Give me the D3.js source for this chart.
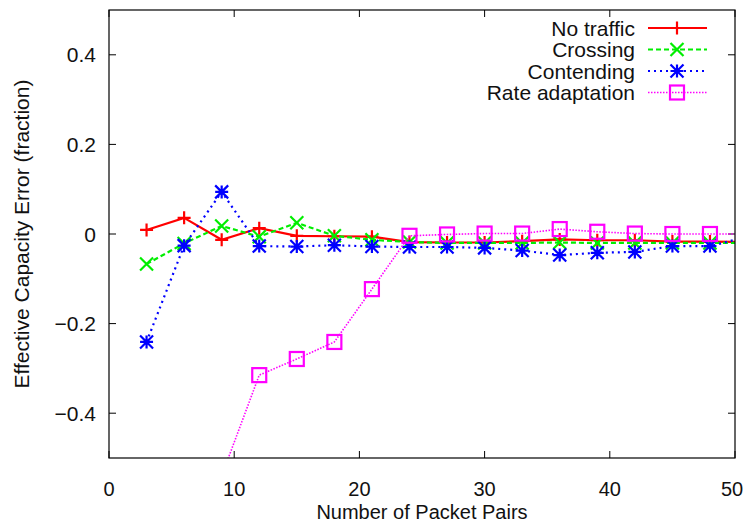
<!DOCTYPE html>
<html>
<head>
<meta charset="utf-8">
<script src="https://cdn.jsdelivr.net/npm/d3@7"></script>
<style>
  body { margin: 0; background: #fff; }
  text { font-family: 'Liberation Sans', Arial, sans-serif; fill: #111; }
</style>
</head>
<body>
<div id="chart"></div>
<script>
// packet pair counts (last point sits past the right edge and gets clipped)
const pairs = [3, 6, 9, 12, 15, 18, 21, 24, 27, 30, 33, 36, 39, 42, 45, 48, 51]

const noTraffic = [0.009, 0.036, -0.013, 0.013, -0.004, -0.005, -0.006, -0.018, -0.019, -0.019, -0.016, -0.012, -0.014, -0.014, -0.017, -0.017, -0.018]
const crossing = [-0.067, -0.021, 0.018, -0.006, 0.025, -0.004, -0.013, -0.018, -0.02, -0.02, -0.02, -0.019, -0.02, -0.02, -0.02, -0.02, -0.02]
const contending = [-0.241, -0.026, 0.094, -0.027, -0.028, -0.025, -0.028, -0.029, -0.029, -0.031, -0.037, -0.047, -0.042, -0.04, -0.027, -0.027, -0.006]
const ratePairs = [9, 12, 15, 18, 21, 24, 27, 30, 33, 36, 39, 42, 45, 48, 51]
const rateAdapt = [-0.54, -0.315, -0.279, -0.241, -0.123, -0.004, -0.001, 0.001, 0.001, 0.011, 0.005, 0.001, 0.0, 0.0, 0.0]

const xTicks = [0, 10, 20, 30, 40, 50]
const yTicks = [-0.4, -0.2, 0, 0.2, 0.4]

let margin = { top: 10, left: 109, right: 9, bottom: 67 }
let width = 744 - margin.left - margin.right
let height = 525 - margin.top - margin.bottom
const fontSize = 21

const svg = d3
  .select('#chart')
  .append('svg')
  .attr('width', 744)
  .attr('height', 525)
  .append('g')
  .attr('transform', 'translate(' + margin.left + ',' + margin.top + ')')

var xScale = d3.scaleLinear().domain([0, 50]).range([0, width])
var yScale = d3.scaleLinear().domain([-0.5, 0.5]).range([height, 0])

svg.append('clipPath').attr('id', 'clip')
  .append('rect').attr('width', width).attr('height', height)

const series = [
  { name: 'No traffic', xs: pairs, ys: noTraffic, color: '#ff0000', dash: null, lw: 2.2, marker: 'plus' },
  { name: 'Crossing', xs: pairs, ys: crossing, color: '#00ee00', dash: '5,3', lw: 2.2, marker: 'cross' },
  { name: 'Contending', xs: pairs, ys: contending, color: '#0000ff', dash: '2,4', lw: 2.2, marker: 'star' },
  { name: 'Rate adaptation', xs: ratePairs, ys: rateAdapt, color: '#ff00ff', dash: '1.5,1.5', lw: 1.6, marker: 'square' }
]

// axis ticks, drawn inward on all four sides like gnuplot
const tickLen = 7
const axisG = svg.append('g')
xTicks.forEach(t => {
  axisG.append('line').attr('x1', xScale(t)).attr('x2', xScale(t))
    .attr('y1', height).attr('y2', height - tickLen).attr('stroke', '#000')
  axisG.append('line').attr('x1', xScale(t)).attr('x2', xScale(t))
    .attr('y1', 0).attr('y2', tickLen).attr('stroke', '#000')
  // the last label would run past the page edge, so pull it in a touch
  const tx = t === 50 ? Math.min(xScale(t), 744 - margin.left - 12) : xScale(t)
  axisG.append('text').attr('x', tx).attr('y', height + 38)
    .attr('text-anchor', 'middle').attr('font-size', 20).text(t)
})
yTicks.forEach(t => {
  axisG.append('line').attr('x1', 0).attr('x2', tickLen)
    .attr('y1', yScale(t)).attr('y2', yScale(t)).attr('stroke', '#000')
  axisG.append('line').attr('x1', width).attr('x2', width - tickLen)
    .attr('y1', yScale(t)).attr('y2', yScale(t)).attr('stroke', '#000')
  axisG.append('text').attr('x', -13).attr('y', yScale(t) + 7.5)
    .attr('text-anchor', 'end').attr('font-size', fontSize).text(d3.format('')(t))
})

svg.append('text')
  .attr('x', width / 2).attr('y', height + 61)
  .attr('text-anchor', 'middle').attr('font-size', 20)
  .text('Number of Packet Pairs')

svg.append('text')
  .attr('transform', 'translate(' + (-80) + ',' + yScale(0) + ') rotate(-90)')
  .attr('text-anchor', 'middle').attr('font-size', fontSize)
  .text('Effective Capacity Error (fraction)')

function drawMarker(g, type, x, y, color) {
  const s = 6.5
  if (type === 'plus') {
    g.append('path').attr('d', `M${x - s},${y}H${x + s}M${x},${y - s}V${y + s}`)
      .attr('stroke', color).attr('stroke-width', 2.2).attr('fill', 'none')
  } else if (type === 'cross') {
    g.append('path').attr('d', `M${x - s},${y - s}L${x + s},${y + s}M${x - s},${y + s}L${x + s},${y - s}`)
      .attr('stroke', color).attr('stroke-width', 2.2).attr('fill', 'none')
  } else if (type === 'star') {
    g.append('path').attr('d', `M${x - s},${y}H${x + s}M${x},${y - s}V${y + s}M${x - s},${y - s}L${x + s},${y + s}M${x - s},${y + s}L${x + s},${y - s}`)
      .attr('stroke', color).attr('stroke-width', 2.2).attr('fill', 'none')
  } else if (type === 'square') {
    g.append('rect').attr('x', x - 7).attr('y', y - 7).attr('width', 14).attr('height', 14)
      .attr('stroke', color).attr('stroke-width', 2.2).attr('fill', 'none')
  }
}

const plot = svg.append('g').attr('clip-path', 'url(#clip)')

var line = d3.line()
  .x(d => xScale(d[0]))
  .y(d => yScale(d[1]))

series.forEach(s => {
  const pts = s.xs.map((x, i) => [x, s.ys[i]])
  plot.append('path')
    .datum(pts)
    .attr('d', line)
    .attr('fill', 'none')
    .attr('stroke', s.color)
    .attr('stroke-width', s.lw)
    .attr('stroke-dasharray', s.dash)
  pts.forEach(p => drawMarker(plot, s.marker, xScale(p[0]), yScale(p[1]), s.color))
})

// legend
const legend = svg.append('g')
series.forEach((s, i) => {
  const ly = 18 + i * 21.5
  legend.append('text').attr('x', 526).attr('y', ly + 7.5)
    .attr('text-anchor', 'end').attr('font-size', fontSize).text(s.name)
  legend.append('line').attr('x1', 539).attr('x2', 598)
    .attr('y1', ly).attr('y2', ly)
    .attr('stroke', s.color).attr('stroke-width', s.lw)
    .attr('stroke-dasharray', s.dash)
  drawMarker(legend, s.marker, 568, ly, s.color)
})

// border box
svg.append('rect')
  .attr('width', width).attr('height', height)
  .attr('fill', 'none').attr('stroke', '#000').attr('stroke-width', 1.2)
</script>
</body>
</html>
